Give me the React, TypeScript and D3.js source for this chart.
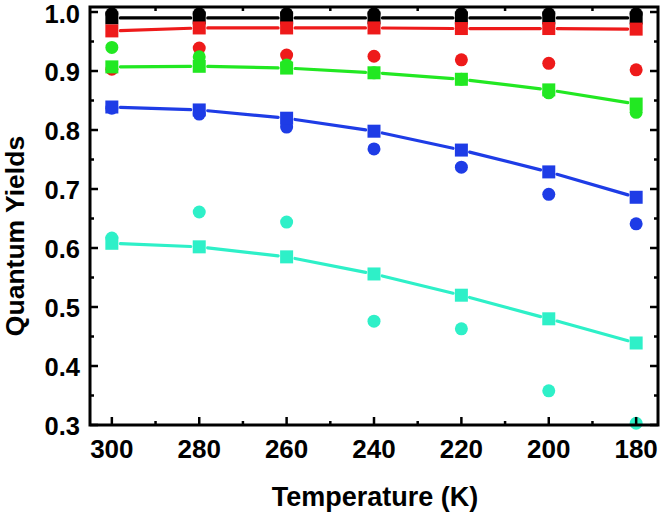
import React from "react";
import * as d3 from "d3";

const temperatures = [300, 280, 260, 240, 220, 200, 180];

const blackSquares = [0.99, 0.99, 0.99, 0.99, 0.99, 0.99, 0.99];
const blackCircles = [0.997, 0.997, 0.997, 0.997, 0.997, 0.997, 0.997];
const redSquares = [0.968, 0.973, 0.973, 0.973, 0.972, 0.972, 0.971];
const redCircles = [0.903, 0.939, 0.927, 0.925, 0.919, 0.913, 0.902];
const greenSquares = [0.907, 0.908, 0.905, 0.897, 0.886, 0.868, 0.844];
const greenCircles = [0.94, 0.924, 0.91, 0.897, 0.886, 0.863, 0.83];
const blueSquares = [0.839, 0.834, 0.82, 0.798, 0.766, 0.729, 0.686];
const blueCircles = [0.837, 0.827, 0.805, 0.768, 0.737, 0.691, 0.641];
const cyanSquares = [0.608, 0.602, 0.585, 0.556, 0.52, 0.48, 0.439];
const cyanCircles = [0.617, 0.661, 0.644, 0.476, 0.463, 0.358, 0.303];

const seriesColors = ["#000000", "#ee1a1a", "#22e822", "#1e3ce6", "#2ef0c8"];
const seriesSquares = [blackSquares, redSquares, greenSquares, blueSquares, cyanSquares];
const seriesCircles = [blackCircles, redCircles, greenCircles, blueCircles, cyanCircles];

const xTicks = [300, 280, 260, 240, 220, 200, 180];
const xMinor = [290, 270, 250, 230, 210, 190];
const yTicks = [0.3, 0.4, 0.5, 0.6, 0.7, 0.8, 0.9, 1.0];
const yMinor = [0.35, 0.45, 0.55, 0.65, 0.75, 0.85, 0.95];

const xTitle = "Temperature (K)";
const yTitle = "Quantum Yields";

export default function App() {
  const L = 90, R = 658, T = 7, B = 425;
  const x = d3.scaleLinear().domain([305, 175]).range([L, R]);
  const y = d3.scaleLinear().domain([0.3, 1.0085]).range([B, T]);
  const font = "'Liberation Sans', Arial, sans-serif";
  const majorLen = 8, minorLen = 4;
  const sq = 13, rad = 6.5, gap = 8.5;

  const segments = (vals: number[]) => {
    const segs: { x1: number; y1: number; x2: number; y2: number }[] = [];
    for (let i = 0; i < vals.length - 1; i++) {
      const x1 = x(temperatures[i]), y1 = y(vals[i]);
      const x2 = x(temperatures[i + 1]), y2 = y(vals[i + 1]);
      const dx = x2 - x1, dy = y2 - y1;
      const len = Math.hypot(dx, dy);
      const ux = dx / len, uy = dy / len;
      segs.push({ x1: x1 + ux * gap, y1: y1 + uy * gap, x2: x2 - ux * gap, y2: y2 - uy * gap });
    }
    return segs;
  };

  return (
    <svg width={662} height={513} style={{ position: "absolute", left: 0, top: 0, background: "#fff" }}>
      <rect x={0} y={0} width={662} height={513} fill="#fff" />
      {seriesColors.map((c, si) => (
        <g key={si}>
          {segments(seriesSquares[si]).map((s, i) => (
            <line key={"l" + i} x1={s.x1} y1={s.y1} x2={s.x2} y2={s.y2} stroke={c} strokeWidth={3.2} strokeLinecap="round" />
          ))}
          {seriesCircles[si].map((v, i) => (
            <circle key={"c" + i} cx={x(temperatures[i])} cy={y(v)} r={rad} fill={c} />
          ))}
          {seriesSquares[si].map((v, i) => (
            <rect key={"s" + i} x={x(temperatures[i]) - sq / 2} y={y(v) - sq / 2} width={sq} height={sq} fill={c} />
          ))}
        </g>
      ))}
      <rect x={L} y={T} width={R - L} height={B - T} fill="none" stroke="#000" strokeWidth={3} />
      {xTicks.map((t) => (
        <g key={"xt" + t}>
          <line x1={x(t)} x2={x(t)} y1={B} y2={B - majorLen} stroke="#000" strokeWidth={2.5} />
          <line x1={x(t)} x2={x(t)} y1={T} y2={T + majorLen} stroke="#000" strokeWidth={2.5} />
          <text x={x(t)} y={458} textAnchor="middle" fontFamily={font} fontWeight="bold" fontSize={26} fill="#000">
            {t}
          </text>
        </g>
      ))}
      {xMinor.map((t) => (
        <g key={"xm" + t}>
          <line x1={x(t)} x2={x(t)} y1={B} y2={B - minorLen} stroke="#000" strokeWidth={2.5} />
          <line x1={x(t)} x2={x(t)} y1={T} y2={T + minorLen} stroke="#000" strokeWidth={2.5} />
        </g>
      ))}
      {yTicks.map((t) => (
        <g key={"yt" + t}>
          <line x1={L} x2={L + majorLen} y1={y(t)} y2={y(t)} stroke="#000" strokeWidth={2.5} />
          <line x1={R} x2={R - majorLen} y1={y(t)} y2={y(t)} stroke="#000" strokeWidth={2.5} />
          <text x={80} y={Math.max(y(t) + 9.5, 23)} textAnchor="end" fontFamily={font} fontWeight="bold" fontSize={25.5} fill="#000">
            {t.toFixed(1)}
          </text>
        </g>
      ))}
      {yMinor.map((t) => (
        <g key={"ym" + t}>
          <line x1={L} x2={L + minorLen} y1={y(t)} y2={y(t)} stroke="#000" strokeWidth={2.5} />
          <line x1={R} x2={R - minorLen} y1={y(t)} y2={y(t)} stroke="#000" strokeWidth={2.5} />
        </g>
      ))}
      <text x={375} y={506} textAnchor="middle" fontFamily={font} fontWeight="bold" fontSize={27} fill="#000">
        {xTitle}
      </text>
      <text
        transform={`translate(24, 236) rotate(-90)`}
        textAnchor="middle"
        fontFamily={font}
        fontWeight="bold"
        fontSize={26.5}
        fill="#000"
      >
        {yTitle}
      </text>
    </svg>
  );
}
